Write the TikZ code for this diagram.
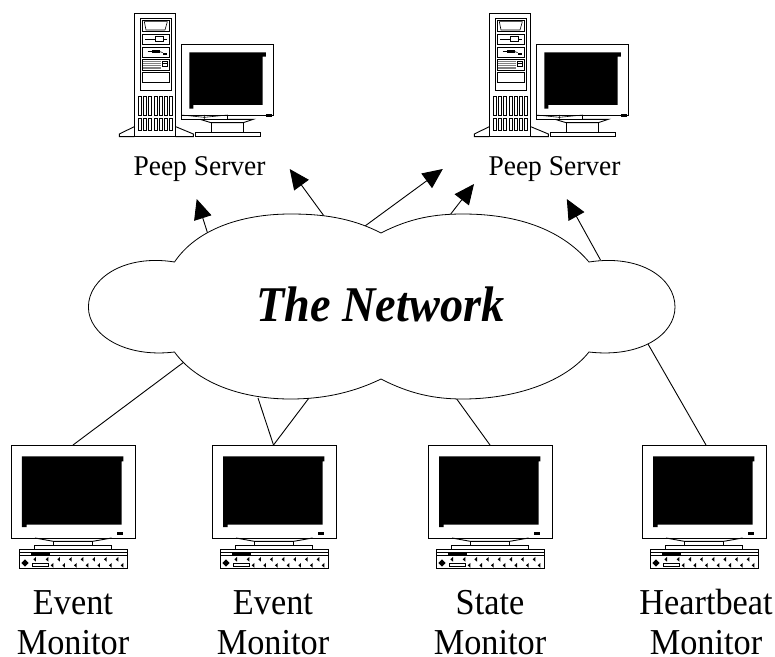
\documentclass[tikz,border=0pt]{standalone}
\usepackage{fontspec}
\setmainfont{Liberation Serif}
\usetikzlibrary{arrows.meta}
\tikzset{
  wire/.style={line width=0.9pt,black},
  arrowwire/.style={wire,-{Triangle[length=20pt,width=18pt]}},
  part/.style={line width=0.9pt,black,line join=miter},
  thin part/.style={line width=0.6pt,black},
  caption/.style={anchor=base,align=center,inner sep=0pt,transform shape},
  pics/crt/.style={code={
    \begin{scope}[x=0.3333pt,y=-0.3333pt,shift={(-33,-46)}]
      \draw[part,fill=white] (33,46) rectangle (405,325);
      \fill (66,80) -- (370,80) -- (370,95) -- (365,95) -- (365,285) -- (80,285) -- (80,292) -- (66,292) -- cycle;
      \fill (350,307) rectangle (370,315);
      \draw[part] (105,325) -- (160,335) -- (278,335) -- (335,325);
      \draw[part] (160,335) -- (160,347) (278,335) -- (278,347);
      \draw[part] (102,358) -- (102,347) -- (335,347) -- (335,358);
      \draw[part,fill=white] (58,358) rectangle (382,417);
      \draw[thin part] (58,368) -- (382,368) (58,376) -- (382,376);
      \fill (92,370) rectangle (150,380);
      \fill (75,389) -- (86,400) -- (75,411) -- (64,400) -- cycle;
      \draw[thin part] (97,400) rectangle (145,411);
      \foreach \kx in {100,137,172,207,242,277,312,347}
        \fill (\kx,389) -- (\kx+8,382) -- (\kx+8,396) -- cycle;
      \foreach \kx in {152,187,222,257,292,327,362}
        \fill (\kx,407) -- (\kx+8,400) -- (\kx+8,414) -- cycle;
    \end{scope}
  }},
  pics/server/.style={code={
    \begin{scope}[x=0.3333pt,y=-0.3333pt]
      \draw[part] (73,380) -- (28,402) -- (28,410) -- (73,410);
      \draw[part] (197,380) -- (250,402) -- (250,410) -- (197,410);
      \draw[part,fill=white] (73,40) rectangle (197,410);
      \draw[part] (91,55) rectangle (183,272);
      \draw[thin part] (97,60) rectangle (177,95);
      \draw[thin part] (103,65) -- (172,65) -- (165,90) -- (108,90) -- cycle;
      \draw[thin part] (97,102) rectangle (177,134);
      \draw[thin part] (105,117) -- (135,117) (160,117) -- (170,117);
      \draw[thin part] (135,108) rectangle (160,124);
      \draw[thin part] (97,141) rectangle (177,172);
      \draw[thin part] (113,155) -- (125,155);
      \fill (125,150) rectangle (150,160);
      \draw[thin part] (150,155) -- (158,158);
      \fill (158,158) rectangle (172,165);
      \draw[thin part] (97,178) rectangle (177,210);
      \foreach \ly in {183,189,195,201,206}
        \draw[thin part,gray] (100,\ly) -- (153,\ly);
      \draw[thin part] (157,183) rectangle (172,200);
      \draw[thin part] (157,191) -- (172,191);
      \draw[thin part] (97,218) rectangle (177,248);
      \foreach \sx in {85,100,116,132,148,164,178} {
        \draw[thin part] (\sx,288) rectangle (\sx+9,346);
        \draw[thin part] (\sx,356) rectangle (\sx+9,390);
      }
      \draw[part,fill=white] (214,133) rectangle (490,345);
      \fill (238,157) -- (468,157) -- (468,170) -- (458,170) -- (458,315) -- (250,315) -- (250,326) -- (238,326) -- cycle;
      \fill (468,345) ++(0,-4) rectangle (485,350);
      \draw[part] (214,345) rectangle (353,358);
      \draw[thin part] (214,345) -- (283,352) -- (353,345) (283,345) -- (283,358);
      \draw[part] (303,368) -- (303,398) (400,368) -- (400,398);
      \draw[part] (270,358) -- (303,368) -- (400,368) -- (430,358) -- (353,358);
      \draw[part] (255,398) rectangle (450,410);
    \end{scope}
  }}
}
\begin{document}
\begin{tikzpicture}[x=1pt,y=-1pt]
\useasboundingbox (0,0) rectangle (775,656);
% cloud attachment points
\coordinate (c1) at (208.2,235);
\coordinate (c2) at (323.8,215.7);
\coordinate (c3) at (365,226);
\coordinate (c4) at (450.5,214.3);
\coordinate (c5) at (600.5,260);
\coordinate (c6) at (184,362);
\coordinate (c7) at (258,398);
\coordinate (c8) at (309,398);
\coordinate (c9) at (456,398);
\coordinate (c10) at (648,344);
% arrow ends
\coordinate (t1) at (196.7,199);
\coordinate (t2) at (289.7,169);
\coordinate (t3) at (442.8,169);
\coordinate (t4) at (474,184);
\coordinate (t5) at (566.8,199);
% monitor top points
\coordinate (m1) at (73,445);
\coordinate (m2) at (273.5,445);
\coordinate (m3) at (490,445);
\coordinate (m4) at (706,445);
% connectors
\draw[arrowwire] (c1) -- (t1);
\draw[arrowwire] (c2) -- (t2);
\draw[arrowwire] (c3) -- (t3);
\draw[arrowwire] (c4) -- (t4);
\draw[arrowwire] (c5) -- (t5);
\draw[wire] (c6) -- (m1);
\draw[wire] (c7) -- (m2);
\draw[wire] (c8) -- (m2);
\draw[wire] (c9) -- (m3);
\draw[wire] (c10) -- (m4);
% cloud
\draw[wire,line width=0.8pt,fill=white]
  (174.5,262)
  .. controls (196,230) and (240,214) .. (290.5,214)
  .. controls (320,214) and (350,217) .. (381,233)
  .. controls (410,218) and (435,214) .. (462.7,214)
  .. controls (515,214) and (560,228) .. (589,262)
  .. controls (640,254) and (675,278) .. (675,307)
  .. controls (675,335) and (640,358) .. (589,352)
  .. controls (565,382) and (515,399) .. (462.7,399)
  .. controls (435,399) and (410,394) .. (381,379)
  .. controls (350,394) and (320,399) .. (290.5,399)
  .. controls (240,399) and (196,382) .. (174.5,352)
  .. controls (125,358) and (88.4,335) .. (88.4,307)
  .. controls (88.4,278) and (125,254) .. (174.5,262) -- cycle;
\node[caption,xscale=0.925,font=\fontsize{50}{54}\selectfont\bfseries\itshape] (net) at (380.5,321.7) {The Network};
% servers
\pic at (110,0) {server};
\pic at (465,0) {server};
\tikzset{small/.style={caption,xscale=0.96,font=\fontsize{28.6}{31}\selectfont}}
\node[small] (s1) at (199.5,175.7) {Peep Server};
\node[small] (s2) at (554.5,175.7) {Peep Server};
% monitors
\pic at (11,445) {crt};
\pic at (212,445) {crt};
\pic at (428,445) {crt};
\pic at (642,445) {crt};
\tikzset{big/.style={caption,xscale=0.94,font=\fontsize{36.5}{40}\selectfont}}
\node[big] (e1a) at (73,614) {Event};
\node[big] (e1b) at (73,654.5) {Monitor};
\node[big] (e2a) at (273,614) {Event};
\node[big] (e2b) at (273,654.5) {Monitor};
\node[big] (e3a) at (490,614) {State};
\node[big] (e3b) at (490,654.5) {Monitor};
\node[big] (e4a) at (706,614) {Heartbeat};
\node[big] (e4b) at (706,654.5) {Monitor};
\end{tikzpicture}
\end{document}
